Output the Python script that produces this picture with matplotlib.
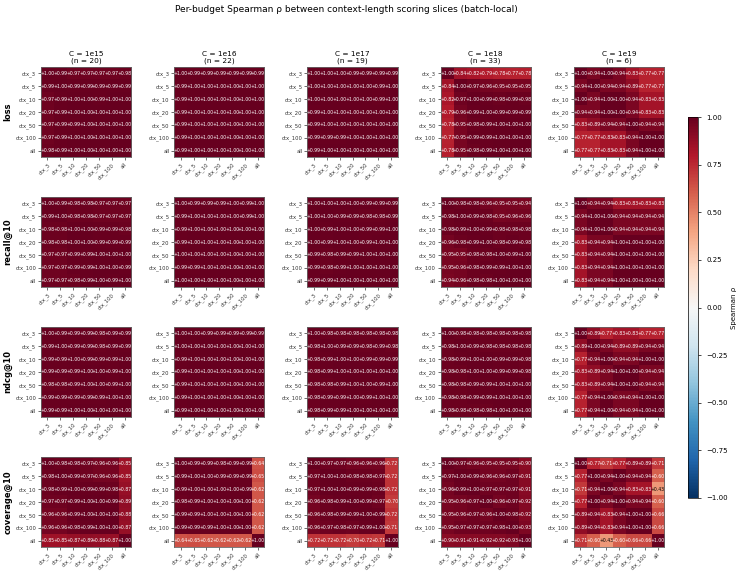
import numpy as np
import matplotlib
matplotlib.use("Agg")
import matplotlib.pyplot as plt

slices = ["ctx_3", "ctx_5", "ctx_10", "ctx_20", "ctx_50", "ctx_100", "all"]
metrics = ["loss", "recall@10", "ndcg@10", "coverage@10"]
budgets = ["1e15", "1e16", "1e17", "1e18", "1e19"]
n_runs = [20, 22, 19, 33, 6]

# Spearman rho matrices, one per budget (rows/cols follow `slices`)
loss_rho = [
    [[1.00, 0.99, 0.97, 0.97, 0.97, 0.97, 0.98],
     [0.99, 1.00, 0.99, 0.99, 0.99, 0.99, 0.99],
     [0.97, 0.99, 1.00, 1.00, 0.99, 1.00, 1.00],
     [0.97, 0.99, 1.00, 1.00, 1.00, 1.00, 1.00],
     [0.97, 0.99, 0.99, 1.00, 1.00, 1.00, 1.00],
     [0.97, 0.99, 1.00, 1.00, 1.00, 1.00, 1.00],
     [0.98, 0.99, 1.00, 1.00, 1.00, 1.00, 1.00]],
    [[1.00, 0.99, 0.99, 0.99, 0.99, 0.99, 0.99],
     [0.99, 1.00, 1.00, 1.00, 1.00, 1.00, 1.00],
     [0.99, 1.00, 1.00, 1.00, 1.00, 1.00, 1.00],
     [0.99, 1.00, 1.00, 1.00, 1.00, 1.00, 1.00],
     [0.99, 1.00, 1.00, 1.00, 1.00, 1.00, 1.00],
     [0.99, 1.00, 1.00, 1.00, 1.00, 1.00, 1.00],
     [0.99, 1.00, 1.00, 1.00, 1.00, 1.00, 1.00]],
    [[1.00, 1.00, 1.00, 0.99, 0.99, 0.99, 0.99],
     [1.00, 1.00, 1.00, 1.00, 1.00, 0.99, 1.00],
     [1.00, 1.00, 1.00, 1.00, 1.00, 0.99, 1.00],
     [0.99, 1.00, 1.00, 1.00, 1.00, 1.00, 1.00],
     [0.99, 1.00, 1.00, 1.00, 1.00, 1.00, 1.00],
     [0.99, 0.99, 0.99, 1.00, 1.00, 1.00, 1.00],
     [0.99, 1.00, 1.00, 1.00, 1.00, 1.00, 1.00]],
    [[1.00, 0.84, 0.82, 0.79, 0.78, 0.77, 0.78],
     [0.84, 1.00, 0.97, 0.96, 0.95, 0.95, 0.95],
     [0.82, 0.97, 1.00, 0.99, 0.98, 0.99, 0.98],
     [0.79, 0.96, 0.99, 1.00, 0.99, 0.99, 0.99],
     [0.78, 0.95, 0.98, 0.99, 1.00, 1.00, 1.00],
     [0.77, 0.95, 0.99, 0.99, 1.00, 1.00, 1.00],
     [0.78, 0.95, 0.98, 0.99, 1.00, 1.00, 1.00]],
    [[1.00, 0.94, 1.00, 0.94, 0.83, 0.77, 0.77],
     [0.94, 1.00, 0.94, 0.94, 0.89, 0.77, 0.77],
     [1.00, 0.94, 1.00, 1.00, 0.94, 0.83, 0.83],
     [0.94, 0.94, 1.00, 1.00, 0.94, 0.83, 0.83],
     [0.83, 0.89, 0.94, 0.94, 1.00, 0.94, 0.94],
     [0.77, 0.77, 0.83, 0.83, 0.94, 1.00, 1.00],
     [0.77, 0.77, 0.83, 0.83, 0.94, 1.00, 1.00]],
]

recall_rho = [
    [[1.00, 0.99, 0.98, 0.98, 0.97, 0.97, 0.97],
     [0.99, 1.00, 0.98, 0.98, 0.97, 0.97, 0.97],
     [0.98, 0.98, 1.00, 1.00, 0.99, 0.99, 0.98],
     [0.98, 0.98, 1.00, 1.00, 0.99, 0.99, 0.99],
     [0.97, 0.97, 0.99, 0.99, 1.00, 1.00, 1.00],
     [0.97, 0.97, 0.99, 0.99, 1.00, 1.00, 0.99],
     [0.97, 0.97, 0.98, 0.99, 1.00, 0.99, 1.00]],
    [[1.00, 0.99, 0.99, 0.99, 1.00, 0.99, 1.00],
     [0.99, 1.00, 1.00, 1.00, 1.00, 0.99, 1.00],
     [0.99, 1.00, 1.00, 1.00, 1.00, 1.00, 1.00],
     [0.99, 1.00, 1.00, 1.00, 1.00, 1.00, 1.00],
     [1.00, 1.00, 1.00, 1.00, 1.00, 1.00, 1.00],
     [0.99, 0.99, 1.00, 1.00, 1.00, 1.00, 1.00],
     [1.00, 1.00, 1.00, 1.00, 1.00, 1.00, 1.00]],
    [[1.00, 1.00, 1.00, 1.00, 0.99, 0.99, 0.99],
     [1.00, 1.00, 0.99, 0.99, 0.98, 0.98, 0.99],
     [1.00, 0.99, 1.00, 1.00, 0.99, 0.99, 1.00],
     [1.00, 0.99, 1.00, 1.00, 0.99, 1.00, 1.00],
     [0.99, 0.98, 0.99, 0.99, 1.00, 1.00, 1.00],
     [0.99, 0.98, 0.99, 1.00, 1.00, 1.00, 1.00],
     [0.99, 0.99, 1.00, 1.00, 1.00, 1.00, 1.00]],
    [[1.00, 0.98, 0.98, 0.96, 0.95, 0.95, 0.94],
     [0.98, 1.00, 0.99, 0.98, 0.95, 0.96, 0.96],
     [0.98, 0.99, 1.00, 0.99, 0.98, 0.98, 0.98],
     [0.96, 0.98, 0.99, 1.00, 0.98, 0.99, 0.98],
     [0.95, 0.95, 0.98, 0.98, 1.00, 0.99, 1.00],
     [0.95, 0.96, 0.98, 0.99, 0.99, 1.00, 1.00],
     [0.94, 0.96, 0.98, 0.98, 1.00, 1.00, 1.00]],
    [[1.00, 0.94, 0.94, 0.83, 0.83, 0.83, 0.83],
     [0.94, 1.00, 1.00, 0.94, 0.94, 0.94, 0.94],
     [0.94, 1.00, 1.00, 0.94, 0.94, 0.94, 0.94],
     [0.83, 0.94, 0.94, 1.00, 1.00, 1.00, 1.00],
     [0.83, 0.94, 0.94, 1.00, 1.00, 1.00, 1.00],
     [0.83, 0.94, 0.94, 1.00, 1.00, 1.00, 1.00],
     [0.83, 0.94, 0.94, 1.00, 1.00, 1.00, 1.00]],
]

ndcg_rho = [
    [[1.00, 0.99, 0.99, 0.99, 0.98, 0.99, 0.99],
     [0.99, 1.00, 0.99, 0.99, 0.98, 0.99, 0.99],
     [0.99, 0.99, 1.00, 0.99, 0.99, 0.99, 1.00],
     [0.99, 0.99, 0.99, 1.00, 1.00, 0.99, 1.00],
     [0.98, 0.98, 0.99, 1.00, 1.00, 0.99, 1.00],
     [0.99, 0.99, 0.99, 0.99, 0.99, 1.00, 1.00],
     [0.99, 0.99, 1.00, 1.00, 1.00, 1.00, 1.00]],
    [[1.00, 1.00, 0.99, 0.99, 0.99, 0.99, 0.99],
     [1.00, 1.00, 1.00, 1.00, 1.00, 1.00, 1.00],
     [0.99, 1.00, 1.00, 1.00, 1.00, 1.00, 1.00],
     [0.99, 1.00, 1.00, 1.00, 1.00, 1.00, 1.00],
     [0.99, 1.00, 1.00, 1.00, 1.00, 1.00, 1.00],
     [0.99, 1.00, 1.00, 1.00, 1.00, 1.00, 1.00],
     [0.99, 1.00, 1.00, 1.00, 1.00, 1.00, 1.00]],
    [[1.00, 0.98, 0.98, 0.98, 0.98, 0.98, 0.98],
     [0.98, 1.00, 0.99, 0.99, 0.98, 0.99, 0.98],
     [0.98, 0.99, 1.00, 1.00, 0.99, 0.99, 0.99],
     [0.98, 0.99, 1.00, 1.00, 1.00, 1.00, 1.00],
     [0.98, 0.98, 0.99, 1.00, 1.00, 0.99, 1.00],
     [0.98, 0.99, 0.99, 1.00, 0.99, 1.00, 1.00],
     [0.98, 0.99, 0.99, 1.00, 1.00, 1.00, 1.00]],
    [[1.00, 0.98, 0.98, 0.98, 0.98, 0.98, 0.98],
     [0.98, 1.00, 0.99, 0.98, 0.98, 0.98, 0.98],
     [0.98, 0.99, 1.00, 1.00, 0.99, 0.99, 0.98],
     [0.98, 0.98, 1.00, 1.00, 0.99, 0.99, 0.98],
     [0.98, 0.98, 0.99, 0.99, 1.00, 1.00, 1.00],
     [0.98, 0.98, 0.99, 0.99, 1.00, 1.00, 1.00],
     [0.98, 0.98, 0.98, 0.98, 1.00, 1.00, 1.00]],
    [[1.00, 0.89, 0.77, 0.83, 0.83, 0.77, 0.77],
     [0.89, 1.00, 0.94, 0.89, 0.89, 0.94, 0.94],
     [0.77, 0.94, 1.00, 0.94, 0.94, 1.00, 1.00],
     [0.83, 0.89, 0.94, 1.00, 1.00, 0.94, 0.94],
     [0.83, 0.89, 0.94, 1.00, 1.00, 0.94, 0.94],
     [0.77, 0.94, 1.00, 0.94, 0.94, 1.00, 1.00],
     [0.77, 0.94, 1.00, 0.94, 0.94, 1.00, 1.00]],
]

coverage_rho = [
    [[1.00, 0.98, 0.98, 0.97, 0.96, 0.96, 0.85],
     [0.98, 1.00, 0.99, 0.97, 0.96, 0.96, 0.85],
     [0.98, 0.99, 1.00, 0.99, 0.99, 0.98, 0.87],
     [0.97, 0.97, 0.99, 1.00, 1.00, 0.99, 0.89],
     [0.96, 0.96, 0.99, 1.00, 1.00, 1.00, 0.88],
     [0.96, 0.96, 0.98, 0.99, 1.00, 1.00, 0.87],
     [0.85, 0.85, 0.87, 0.89, 0.88, 0.87, 1.00]],
    [[1.00, 0.99, 0.99, 0.98, 0.99, 0.99, 0.64],
     [0.99, 1.00, 1.00, 0.99, 0.99, 0.99, 0.65],
     [0.99, 1.00, 1.00, 1.00, 1.00, 0.99, 0.62],
     [0.98, 0.99, 1.00, 1.00, 1.00, 1.00, 0.62],
     [0.99, 0.99, 1.00, 1.00, 1.00, 1.00, 0.62],
     [0.99, 0.99, 0.99, 1.00, 1.00, 1.00, 0.62],
     [0.64, 0.65, 0.62, 0.62, 0.62, 0.62, 1.00]],
    [[1.00, 0.97, 0.97, 0.96, 0.96, 0.96, 0.72],
     [0.97, 1.00, 1.00, 0.98, 0.98, 0.97, 0.72],
     [0.97, 1.00, 1.00, 0.99, 0.99, 0.98, 0.72],
     [0.96, 0.98, 0.99, 1.00, 0.99, 0.97, 0.70],
     [0.96, 0.98, 0.99, 0.99, 1.00, 0.99, 0.72],
     [0.96, 0.97, 0.98, 0.97, 0.99, 1.00, 0.71],
     [0.72, 0.72, 0.72, 0.70, 0.72, 0.71, 1.00]],
    [[1.00, 0.97, 0.96, 0.95, 0.95, 0.95, 0.90],
     [0.97, 1.00, 0.99, 0.96, 0.96, 0.97, 0.91],
     [0.96, 0.99, 1.00, 0.97, 0.97, 0.97, 0.91],
     [0.95, 0.96, 0.97, 1.00, 0.96, 0.97, 0.92],
     [0.95, 0.96, 0.97, 0.96, 1.00, 0.98, 0.92],
     [0.95, 0.97, 0.97, 0.97, 0.98, 1.00, 0.93],
     [0.90, 0.91, 0.91, 0.92, 0.92, 0.93, 1.00]],
    [[1.00, 0.77, 0.71, 0.77, 0.89, 0.89, 0.71],
     [0.77, 1.00, 0.94, 1.00, 0.94, 0.94, 0.60],
     [0.71, 0.94, 1.00, 0.94, 0.83, 0.83, 0.43],
     [0.77, 1.00, 0.94, 1.00, 0.94, 0.94, 0.60],
     [0.89, 0.94, 0.83, 0.94, 1.00, 1.00, 0.66],
     [0.89, 0.94, 0.83, 0.94, 1.00, 1.00, 0.66],
     [0.71, 0.60, 0.43, 0.60, 0.66, 0.66, 1.00]],
]

all_rho = [loss_rho, recall_rho, ndcg_rho, coverage_rho]

fig, axes = plt.subplots(4, 5, figsize=(7.41, 5.75), dpi=100)
fig.subplots_adjust(left=41 / 741, right=664 / 741, top=1 - 67 / 575,
                    bottom=1 - 547 / 575, wspace=0.478, hspace=0.444)

im = None
for r, metric in enumerate(metrics):
    for c, budget in enumerate(budgets):
        ax = axes[r, c]
        mat = np.array(all_rho[r][c])
        im = ax.imshow(mat, cmap="RdBu_r", vmin=-1, vmax=1)
        for i in range(len(slices)):
            for j in range(len(slices)):
                v = mat[i, j]
                ax.text(j, i, f"{v:+.2f}", ha="center", va="center",
                        fontsize=3.3, color="white" if abs(v) > 0.5 else "black")
        ax.set_xticks(range(len(slices)))
        ax.set_yticks(range(len(slices)))
        ax.set_xticklabels(slices, rotation=45, ha="right", rotation_mode="anchor", fontsize=3.8)
        ax.set_yticklabels(slices, fontsize=3.8)
        ax.tick_params(length=2, width=0.5, pad=1.5, colors="#333333")
        for s in ax.spines.values():
            s.set_edgecolor("#666666")
            s.set_linewidth(0.6)
        if r == 0:
            ax.set_title(f"C = {budget}\n(n = {n_runs[c]})", fontsize=5.3, pad=3, linespacing=1.1)
        if c == 0:
            ax.set_ylabel(metric, fontsize=6, fontweight="bold", labelpad=2)

cax = fig.add_axes([688 / 741, 1 - 498 / 575, 10 / 741, 381 / 575])
cb = fig.colorbar(im, cax=cax)
cb.set_ticks(np.linspace(-1, 1, 9))
cb.ax.set_yticklabels([f"{t:.2f}".replace("-", "\u2212") for t in np.linspace(-1, 1, 9)])
cb.ax.tick_params(labelsize=5, length=2.5, width=0.5)
cb.outline.set_linewidth(0.5)
cb.set_label("Spearman \u03c1", fontsize=5, labelpad=2)

fig.suptitle("Per-budget Spearman \u03c1 between context-length scoring slices (batch-local)",
             x=0.468, y=0.983, va="center", fontsize=6.5)

fig.savefig("out.png", dpi=100)
